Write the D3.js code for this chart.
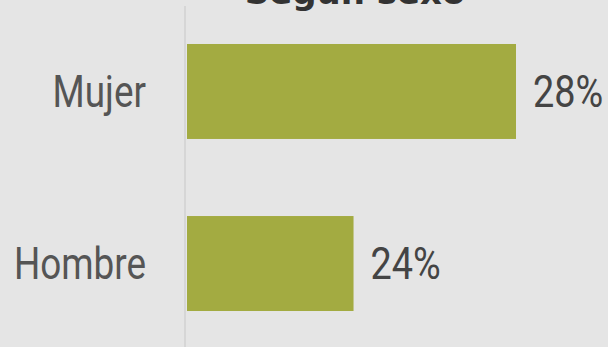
<!DOCTYPE html>
<html>
<head>
<meta charset="utf-8">
<script src="https://cdn.jsdelivr.net/npm/d3@7"></script>
<style>
  html, body { margin: 0; padding: 0; background: #e5e5e5; }
  svg { display: block; }
</style>
</head>
<body>
<div id="chart"></div>
<script>
// data
const categories = ['Mujer', 'Hombre'];
const values = [28, 24];
const valueLabels = ['28%', '24%'];
const title = 'Según sexo';

const svgWidth = 608, svgHeight = 347;
const margin = { top: 6, right: 92, bottom: 0, left: 187 };

const x = d3.scaleLinear().domain([19.9, 28]).range([margin.left, svgWidth - margin.right]);
const y = d3.scaleBand().domain(categories)
  .range([margin.top + 1, svgHeight + 1])
  .paddingInner(0.448)
  .paddingOuter(0.215);

const svg = d3.select('#chart').append('svg')
  .attr('width', svgWidth)
  .attr('height', svgHeight)
  .style('background', '#e5e5e5');

// axis line on the left
svg.append('line')
  .attr('x1', margin.left - 2).attr('x2', margin.left - 2)
  .attr('y1', margin.top).attr('y2', svgHeight)
  .attr('stroke', '#d6d6d6')
  .attr('stroke-width', 2);

const rows = categories.map((c, i) => ({ cat: c, value: values[i], label: valueLabels[i] }));

svg.selectAll('.bar')
  .data(rows)
  .enter()
  .append('rect')
  .attr('class', 'bar')
  .attr('x', x(x.domain()[0]))
  .attr('y', d => y(d.cat))
  .attr('width', d => x(d.value) - x(x.domain()[0]))
  .attr('height', y.bandwidth())
  .attr('fill', '#a3ab41');

// condensed look: squeeze Roboto horizontally
const squeezeCat = 0.82, squeezeVal = 0.86;

svg.selectAll('.cat')
  .data(rows)
  .enter()
  .append('text')
  .attr('class', 'cat')
  .attr('transform', d => 'translate(' + (margin.left - 41) + ',' + (y(d.cat) + y.bandwidth() / 2) + ') scale(' + squeezeCat + ',1)')
  .attr('dy', '0.35em')
  .attr('text-anchor', 'end')
  .style('font-family', 'Roboto, sans-serif')
  .style('font-size', '45px')
  .style('fill', '#555555')
  .text(d => d.cat);

svg.selectAll('.val')
  .data(rows)
  .enter()
  .append('text')
  .attr('class', 'val')
  .attr('transform', d => 'translate(' + (x(d.value) + 17) + ',' + (y(d.cat) + y.bandwidth() / 2) + ') scale(' + squeezeVal + ',1)')
  .attr('dy', '0.35em')
  .style('font-family', 'Roboto, sans-serif')
  .style('font-size', '44px')
  .style('fill', '#444444')
  .text(d => d.label);

// title, cut off at the top as in the original
svg.append('text')
  .attr('x', 355)
  .attr('y', 4)
  .attr('text-anchor', 'middle')
  .style('font-family', '"DejaVu Sans", sans-serif')
  .style('font-weight', 'bold')
  .style('font-size', '34px')
  .style('fill', '#333333')
  .text(title);
</script>
</body>
</html>
